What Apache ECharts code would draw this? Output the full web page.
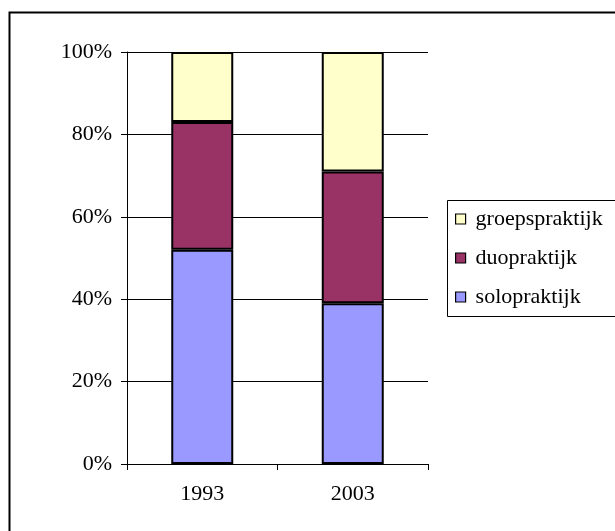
<!DOCTYPE html>
<html>
<head>
<meta charset="utf-8">
<style>
  html, body { margin: 0; padding: 0; background: #fff; }
  #chart { width: 615px; height: 531px; }
</style>
<script src="https://cdn.jsdelivr.net/npm/echarts@6/dist/echarts.min.js"></script>
</head>
<body>
<div id="chart"></div>
<script>
// praktijkvorm per jaar, aandeel in procenten
const years = ['1993', '2003'];
const solo = [52, 39];
const duo = [31, 32];
const groep = [17, 29];
const yTicks = [0, 20, 40, 60, 80, 100];

const FONT = '"Liberation Serif", "DejaVu Serif", serif';

const chart = echarts.init(document.getElementById('chart'));

const barSeries = (name, data, color) => ({
  name,
  type: 'bar',
  stack: 'totaal',
  data,
  barWidth: 62,
  itemStyle: { color, borderColor: '#000', borderWidth: 2 },
  emphasis: { disabled: true }
});

chart.setOption({
  animation: false,
  textStyle: { fontFamily: FONT },
  graphic: [
    // chart border, runs off the right/bottom edge
    {
      type: 'rect',
      shape: { x: 9.5, y: 12.5, width: 640, height: 560 },
      style: { fill: 'none', stroke: '#000', lineWidth: 2 },
      z: 0
    },
    // legend box
    {
      type: 'rect',
      shape: { x: 447.5, y: 200.5, width: 200, height: 116 },
      style: { fill: '#fff', stroke: '#000', lineWidth: 1 },
      z: 0
    }
  ],
  legend: {
    orient: 'vertical',
    left: 455,
    top: 208,
    padding: 0,
    itemWidth: 10,
    itemHeight: 10,
    itemGap: 17,
    icon: 'rect',
    data: ['groepspraktijk', 'duopraktijk', 'solopraktijk'],
    itemStyle: { borderColor: '#000', borderWidth: 1.2 },
    textStyle: {
      fontFamily: FONT,
      fontSize: 22,
      lineHeight: 22,
      color: '#000',
      padding: [0, 0, 0, 5]
    },
    selectedMode: false
  },
  grid: { left: 127, right: 187, top: 52, bottom: 67 },
  xAxis: {
    type: 'category',
    data: years,
    axisLine: { lineStyle: { color: '#000', width: 1 } },
    axisTick: { show: true, length: 6, lineStyle: { color: '#000' } },
    axisLabel: { color: '#000', fontSize: 22, fontFamily: FONT, margin: 19 }
  },
  yAxis: {
    type: 'value',
    min: yTicks[0],
    max: yTicks[yTicks.length - 1],
    interval: 20,
    axisLine: { show: true, lineStyle: { color: '#000', width: 1 } },
    axisTick: { show: true, length: 6, lineStyle: { color: '#000' } },
    splitLine: { show: true, lineStyle: { color: '#000', width: 1 } },
    axisLabel: {
      color: '#000',
      fontSize: 22,
      fontFamily: FONT,
      margin: 15,
      formatter: '{value}%'
    }
  },
  series: [
    barSeries('solopraktijk', solo, '#9999FF'),
    barSeries('duopraktijk', duo, '#993366'),
    barSeries('groepspraktijk', groep, '#FFFFCC')
  ]
});
</script>
</body>
</html>
